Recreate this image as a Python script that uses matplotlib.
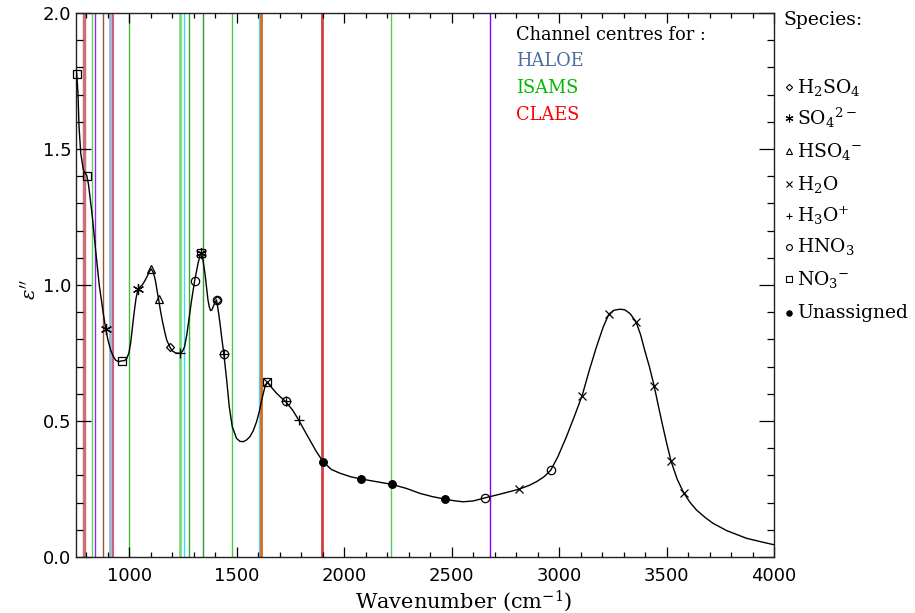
import numpy as np
import matplotlib
matplotlib.use("Agg")
import matplotlib.pyplot as plt
from matplotlib.lines import Line2D

plt.rcParams['mathtext.fontset'] = 'dejavuserif'

# imaginary refractive index curve (wavenumber cm-1, eps'')
curve_wn = [750, 755, 761, 766, 774, 786, 802, 810, 828, 843, 860, 878, 890, 900,
            913, 925, 936, 950, 964, 978, 988, 998, 1006, 1014, 1022, 1031, 1040,
            1050, 1060, 1072, 1085, 1095, 1102, 1112, 1121, 1130, 1136, 1145, 1153,
            1164, 1174, 1189, 1200, 1215, 1236, 1248, 1257, 1267, 1277, 1290, 1304,
            1320, 1330, 1335, 1343, 1352, 1360, 1366, 1372, 1378, 1384, 1390, 1398,
            1406, 1414, 1422, 1431, 1440, 1453, 1465, 1479, 1499, 1515, 1530, 1545,
            1561, 1577, 1592, 1605, 1616, 1631, 1643, 1660, 1685, 1705, 1727, 1760,
            1788, 1815, 1840, 1870, 1902, 1940, 1980, 2030, 2077, 2165, 2222, 2290,
            2352, 2410, 2468, 2510, 2553, 2600, 2653, 2730, 2812, 2860, 2895, 2930,
            2961, 2995, 3034, 3070, 3107, 3140, 3174, 3205, 3231, 3255, 3282, 3305,
            3330, 3358, 3380, 3398, 3420, 3442, 3462, 3483, 3500, 3521, 3550, 3581,
            3610, 3639, 3680, 3716, 3780, 3871, 3950, 4000]
curve_eps = [1.79, 1.778, 1.705, 1.582, 1.484, 1.423, 1.402, 1.370, 1.250, 1.130,
             1.000, 0.900, 0.839, 0.800, 0.761, 0.738, 0.724, 0.718, 0.721, 0.722,
             0.730, 0.750, 0.786, 0.840, 0.896, 0.950, 0.984, 0.993, 1.000, 1.015,
             1.035, 1.052, 1.059, 1.045, 1.018, 0.975, 0.949, 0.905, 0.871, 0.830,
             0.798, 0.771, 0.758, 0.750, 0.749, 0.757, 0.773, 0.815, 0.871, 0.945,
             1.016, 1.080, 1.112, 1.119, 1.090, 1.043, 0.985, 0.945, 0.920, 0.906,
             0.908, 0.920, 0.935, 0.945, 0.905, 0.859, 0.800, 0.745, 0.651, 0.553,
             0.479, 0.436, 0.425, 0.424, 0.430, 0.442, 0.465, 0.497, 0.535, 0.577,
             0.626, 0.642, 0.625, 0.602, 0.587, 0.572, 0.540, 0.504, 0.465, 0.430,
             0.388, 0.350, 0.322, 0.308, 0.295, 0.287, 0.275, 0.267, 0.252, 0.234,
             0.222, 0.213, 0.207, 0.203, 0.206, 0.217, 0.232, 0.249, 0.263, 0.277,
             0.295, 0.319, 0.370, 0.442, 0.515, 0.593, 0.685, 0.773, 0.845, 0.892,
             0.907, 0.911, 0.909, 0.895, 0.865, 0.815, 0.761, 0.700, 0.630, 0.555,
             0.479, 0.420, 0.352, 0.285, 0.234, 0.200, 0.173, 0.145, 0.124, 0.097,
             0.069, 0.054, 0.045]

# band positions assigned to each species
h2so4_wn = [1189, 1406]
h2so4_eps = [0.771, 0.945]
so4_wn = [890, 1040, 1335]
so4_eps = [0.839, 0.984, 1.119]
hso4_wn = [1102, 1136]
hso4_eps = [1.059, 0.949]
h2o_wn = [1643, 2812, 3107, 3231, 3358, 3442, 3521, 3581]
h2o_eps = [0.642, 0.249, 0.593, 0.892, 0.865, 0.630, 0.352, 0.234]
h3o_wn = [1236, 1440, 1727, 1788]
h3o_eps = [0.749, 0.745, 0.572, 0.504]
hno3_wn = [1304, 1406, 1440, 1727, 2653, 2961]
hno3_eps = [1.016, 0.945, 0.745, 0.572, 0.217, 0.319]
no3_wn = [758, 802, 964, 1335, 1643]
no3_eps = [1.776, 1.402, 0.721, 1.119, 0.642]
unass_wn = [1902, 2077, 2222, 2468]
unass_eps = [0.350, 0.287, 0.267, 0.213]

# instrument channel centres (cm-1) and line colours
chan_wn = [787, 826, 839, 876, 910, 923, 1000, 1236, 1256, 1279, 1344, 1477,
           1602, 1611, 1896, 2217, 2679]
chan_col = ['#c8707e', '#66cc66', '#8a2be2', '#a0522d', '#a0b4d0', '#c86080',
            '#44bb44', '#77dd77', '#33ddff', '#33aa33', '#2e9a2e', '#44cc44',
            '#66ccee', '#d2691e', '#d04040', '#55cc55', '#8000ff']
chan_lw = [2.5, 1, 1, 1, 2, 1.5, 1, 2, 1, 1, 1, 1, 1, 2, 2, 1, 1]

species = [
    ('H$_2$SO$_4$', 'D', 'none', 4.5),
    ('SO$_4$$^{2-}$', (6, 2, 0), 'k', 8),
    ('HSO$_4$$^{-}$', '^', 'none', 6),
    ('H$_2$O', 'x', 'none', 6),
    ('H$_3$O$^{+}$', '+', 'none', 7),
    ('HNO$_3$', 'o', 'none', 6),
    ('NO$_3$$^{-}$', 's', 'none', 6),
    ('Unassigned', 'o', 'k', 5.5),
]
species_pts = [(h2so4_wn, h2so4_eps), (so4_wn, so4_eps), (hso4_wn, hso4_eps),
               (h2o_wn, h2o_eps), (h3o_wn, h3o_eps), (hno3_wn, hno3_eps),
               (no3_wn, no3_eps), (unass_wn, unass_eps)]

fig = plt.figure(figsize=(9.15, 6.13), dpi=100)
ax = fig.add_axes([75.6 / 915, 56 / 613, (774 - 75.6) / 915, 544 / 613])

for wn, c, lw in zip(chan_wn, chan_col, chan_lw):
    ax.axvline(wn, color=c, lw=lw, zorder=1)

ax.plot(curve_wn, curve_eps, color='k', lw=1.0, zorder=3)

for (lab, m, fc, ms), (wn, ep) in zip(species, species_pts):
    ax.plot(wn, ep, linestyle='none', marker=m, markerfacecolor=fc,
            markeredgecolor='k', markersize=ms, markeredgewidth=0.9, zorder=4,
            clip_on=False)

ax.set_xlim(750, 4000)
ax.set_ylim(0, 2.0)
ax.set_xticks(np.arange(1000, 4001, 500))
ax.set_xticks(np.arange(800, 4001, 100), minor=True)
ax.set_yticks([0.0, 0.5, 1.0, 1.5, 2.0])
ax.set_yticks(np.arange(0, 2.01, 0.1), minor=True)
ax.yaxis.set_major_formatter(matplotlib.ticker.FormatStrFormatter('%.1f'))
ax.tick_params(axis='both', which='both', direction='in', top=True, right=True,
               labelsize=13, width=0.9)
ax.tick_params(axis='x', which='major', length=7, pad=7)
ax.tick_params(axis='x', which='minor', length=3.5)
ax.tick_params(axis='y', which='major', length=11, pad=3)
ax.tick_params(axis='y', which='minor', length=5)
for lab in ax.get_xticklabels() + ax.get_yticklabels():
    lab.set_family('DejaVu Sans')
for s in ax.spines.values():
    s.set_linewidth(1.0)
    s.set_color('#222222')

fig.text(464 / 915, 1 - 601 / 613, 'Wavenumber (cm$^{-1}$)', ha='center', va='center',
         family='DejaVu Serif', fontsize=15)
fig.text(30 / 915, 1 - 290 / 613, "$\\epsilon''$", ha='center', va='center',
         rotation=90, fontsize=14)

# channel legend
fig.text(516 / 915, 1 - 35 / 613, 'Channel centres for :', ha='left', va='center',
         family='DejaVu Serif', fontsize=12.8)
for txt, col, y in [('HALOE', '#4a6c9b', 61), ('ISAMS', '#00b800', 88),
                    ('CLAES', '#ff0000', 115)]:
    fig.text(516 / 915, 1 - y / 613, txt, ha='left', va='center', color=col,
             family='DejaVu Serif', fontsize=12.8)

# species legend
fig.text(783 / 915, 1 - 20 / 613, 'Species:', ha='left', va='center',
         family='DejaVu Serif', fontsize=13.5)
leg_y = [87, 118, 151, 184, 216, 247, 279, 313]
for (lab, m, fc, ms), y in zip(species, leg_y):
    fy = 1 - y / 613
    fig.add_artist(Line2D([789 / 915], [fy], marker=m, markerfacecolor=fc,
                          markeredgecolor='k', markersize=ms * 0.7,
                          markeredgewidth=0.8, linestyle='none'))
    fig.text(797 / 915, fy, lab, ha='left', va='center', family='DejaVu Serif',
             fontsize=13.5)

fig.savefig('out.png', dpi=100)
